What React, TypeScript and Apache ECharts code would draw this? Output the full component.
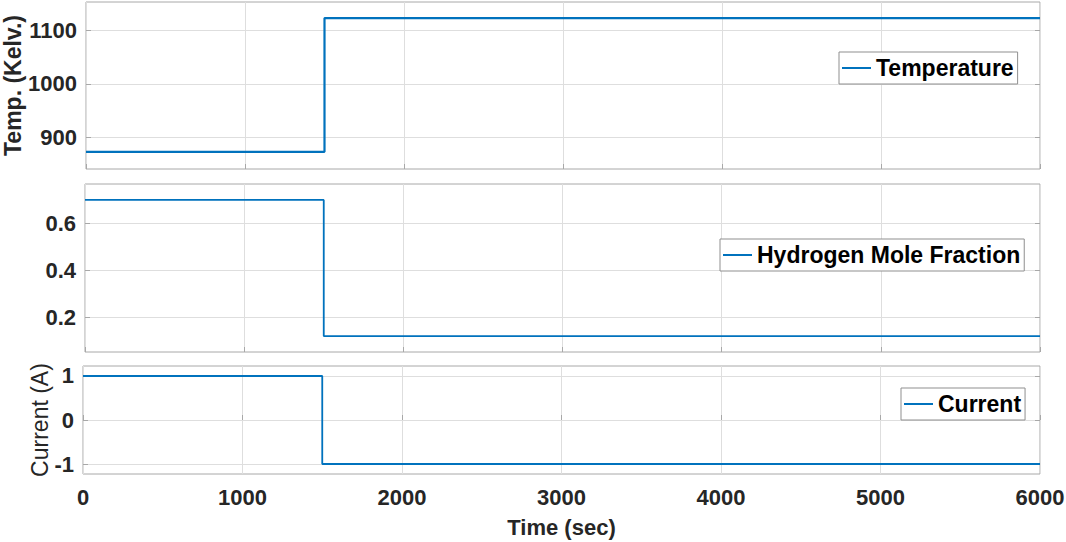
import React, { useEffect, useRef } from "react";
import * as echarts from "echarts";

const timeSec = [0, 1500, 1500, 6000];
const temperatureK = [873, 873, 1123, 1123];
const hydrogenFraction = [0.7, 0.7, 0.12, 0.12];
const currentA = [1, 1, -1, -1];

const tempTicks = [900, 1000, 1100];
const h2Ticks = [0.2, 0.4, 0.6];
const currentTicks = [-1, 0, 1];

const seriesNames = ["Temperature", "Hydrogen Mole Fraction", "Current"];
const yNames = ["Temp. (Kelv.)", "", "Current (A)"];

const FONT = "'Liberation Sans', Arial, Helvetica, sans-serif";
const LINE = "#0072BD";
const BORDER = "#a8a8a8";
const GRIDLINE = "#dedede";
const TEXT = "#262626";

const plain = (v: number) => String(v);

export default function App() {
  const ref = useRef<HTMLDivElement>(null);
  useEffect(() => {
    if (!ref.current) return;
    const chart = echarts.init(ref.current, undefined, { renderer: "svg" });

    const grids = [
      { left: 86, top: 2, width: 954, height: 167 },
      { left: 85, top: 184, width: 955, height: 168 },
      { left: 83, top: 366, width: 957, height: 108 },
    ];
    const yRanges = [
      [841, 1153],
      [0.052, 0.768],
      [-1.227, 1.227],
    ];
    const yTicks = [tempTicks, h2Ticks, currentTicks];
    const values = [temperatureK, hydrogenFraction, currentA];
    const legendPos = [
      { left: 839, top: 52 },
      { left: 720, top: 239 },
      { left: 901, top: 388 },
    ];

    const option: any = {
      animation: false,
      backgroundColor: "#fff",
      grid: grids.map((g) => ({
        ...g,
        show: true,
        containLabel: false,
        outerBoundsMode: "none",
        borderColor: BORDER,
        borderWidth: 1,
        backgroundColor: "#fff",
      })),
      xAxis: grids.map((_, i) => ({
        type: "value",
        gridIndex: i,
        min: 0,
        max: 6000,
        interval: 1000,
        name: i === 2 ? "Time (sec)" : "",
        nameLocation: "middle",
        nameGap: 42,
        nameMoveOverlap: false,
        nameTextStyle: { fontFamily: FONT, fontSize: 22, fontWeight: "bold", color: TEXT },
        axisLine: { show: false },
        axisTick: { show: true, inside: true, length: 5, lineStyle: { color: BORDER } },
        axisLabel: {
          show: i === 2,
          margin: 12,
          formatter: plain,
          fontFamily: FONT,
          fontSize: 22,
          fontWeight: "bold",
          color: TEXT,
        },
        splitLine: { show: true, lineStyle: { color: GRIDLINE, width: 1 } },
      })),
      yAxis: [
        ...grids.map((_, i) => ({
          type: "value",
          gridIndex: i,
          min: yRanges[i][0],
          max: yRanges[i][1],
          name: yNames[i],
          nameLocation: "middle",
          nameRotate: 90,
          nameGap: i === 0 ? 62 : 32,
          nameMoveOverlap: false,
          nameTextStyle: {
            fontFamily: FONT,
            fontSize: 23,
            fontWeight: i === 0 ? "bold" : "normal",
            color: TEXT,
          },
          axisLine: { show: false },
          axisTick: {
            show: true,
            inside: true,
            length: 5,
            customValues: yTicks[i],
            lineStyle: { color: BORDER },
          },
          axisLabel: {
            customValues: yTicks[i],
            formatter: plain,
            margin: 9,
            fontFamily: FONT,
            fontSize: 22,
            fontWeight: "bold",
            color: TEXT,
          },
          splitLine: { show: true, lineStyle: { color: GRIDLINE, width: 1 } },
        })),
        ...grids.map((_, i) => ({
          type: "value",
          gridIndex: i,
          position: "right",
          min: yRanges[i][0],
          max: yRanges[i][1],
          axisLine: { show: false },
          axisTick: {
            show: true,
            inside: true,
            length: 5,
            customValues: yTicks[i],
            lineStyle: { color: BORDER },
          },
          axisLabel: { show: false, customValues: yTicks[i] },
          splitLine: { show: false },
        })),
      ],
      legend: legendPos.map((p, i) => ({
        ...p,
        data: [seriesNames[i]],
        orient: "horizontal",
        backgroundColor: "#fff",
        borderColor: "#8f8f8f",
        borderWidth: 1,
        borderRadius: 0,
        padding: [4, 4, 4, 3],
        itemWidth: 29,
        itemHeight: 2,
        icon: "rect",
        selectedMode: false,
        textStyle: {
          fontFamily: FONT,
          fontSize: 23,
          fontWeight: "bold",
          color: "#000",
          lineHeight: 24,
        },
      })),
      series: values.map((vals, i) => ({
        type: "line",
        name: seriesNames[i],
        xAxisIndex: i,
        yAxisIndex: i,
        symbol: "none",
        data: timeSec.map((t, k) => [t, vals[k]]),
        lineStyle: { color: LINE, width: i === 0 ? 2.2 : 1.8 },
        itemStyle: { color: LINE },
      })),
    };
    chart.setOption(option);
    return () => chart.dispose();
  }, []);
  return (
    <div
      ref={ref}
      style={{ position: "fixed", left: 0, top: 0, width: 1066, height: 542 }}
    />
  );
}
